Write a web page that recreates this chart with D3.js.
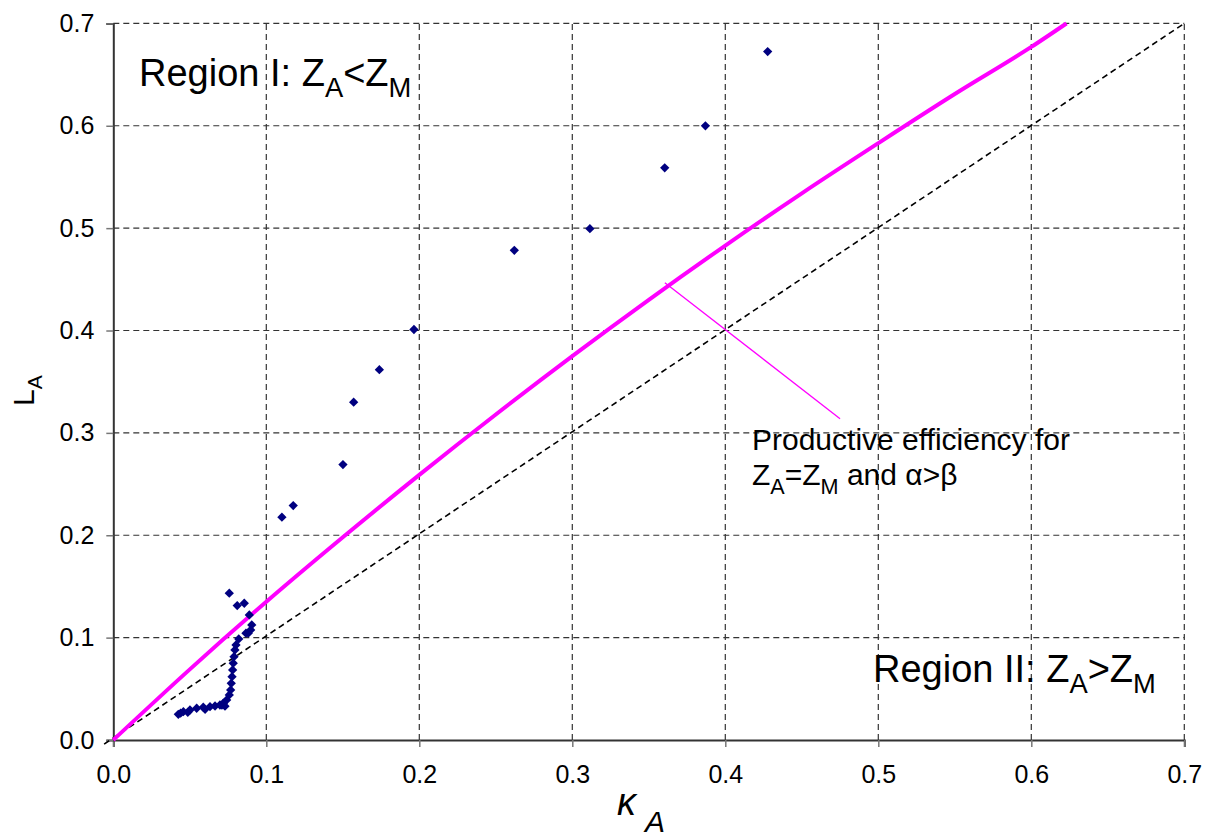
<!DOCTYPE html>
<html>
<head>
<meta charset="utf-8">
<script src="https://cdn.jsdelivr.net/npm/d3@7"></script>
<style>
  body { margin: 0; background: #fff; }
  text { font-family: "Liberation Sans", Arial, sans-serif; fill: #000; }
</style>
</head>
<body>
<div id="chart"></div>
<script>
// chart.js - kappa_A vs L_A scatter with efficiency curve

const width = 1215;
const height = 839;

// tick values
const xTicks = [0, 0.1, 0.2, 0.3, 0.4, 0.5, 0.6, 0.7];
const yTicks = [0, 0.1, 0.2, 0.3, 0.4, 0.5, 0.6, 0.7];

// observed points (kappa_A, L_A)
const obsK = [0.4277, 0.3870, 0.3604, 0.3115, 0.2621, 0.1965, 0.1739, 0.1571, 0.1501, 0.1176,
  0.1102, 0.0758, 0.0810, 0.0856, 0.0889, 0.0905, 0.0898, 0.0882, 0.0867, 0.0820,
  0.0802, 0.0795, 0.0789, 0.0784, 0.0780, 0.0776, 0.0771, 0.0767, 0.0758, 0.0741,
  0.0730, 0.0719, 0.0710, 0.0697, 0.0665, 0.0632, 0.0600, 0.0588, 0.0545, 0.0501,
  0.0487, 0.0458, 0.0440, 0.0425];
const obsL = [0.6725, 0.6000, 0.5589, 0.4995, 0.4783, 0.4010, 0.3617, 0.3300, 0.2690, 0.2290,
  0.2177, 0.1434, 0.1313, 0.1336, 0.1222, 0.1124, 0.1075, 0.1043, 0.1043, 0.0987,
  0.0929, 0.0880, 0.0814, 0.0750, 0.0684, 0.0619, 0.0554, 0.0489, 0.0440, 0.0391,
  0.0330, 0.0359, 0.0340, 0.0342, 0.0332, 0.0326, 0.0300, 0.0320, 0.0310, 0.0293,
  0.0270, 0.0277, 0.0262, 0.0251];

// productive efficiency curve (Z_A = Z_M, alpha > beta)
const effK = [0, 0.05, 0.1, 0.15, 0.2, 0.25, 0.3, 0.35, 0.4, 0.45, 0.5, 0.55, 0.6, 0.623];
const effL = [0, 0.069, 0.135, 0.198, 0.259, 0.318, 0.375, 0.430, 0.483, 0.534, 0.583, 0.631, 0.677, 0.700];

// 45 degree line
const diagK = [-0.006, 0.7];
const diagL = [-0.004, 0.7];

// annotation pointer
const noteK = [0.3605, 0.475];
const noteL = [0.4467, 0.3138];

const margin = { left: 113.3, right: 1184.3, top: 23.4, bottom: 740 };

const svg = d3.select('#chart')
  .append('svg')
  .attr('width', width)
  .attr('height', height);

const x = d3.scaleLinear().domain([0, 0.7]).range([margin.left, margin.right]);
const y = d3.scaleLinear().domain([0, 0.7]).range([margin.bottom, margin.top]);

const fmt = d3.format('.1f');

// gridlines
svg.append('g')
  .selectAll('line')
  .data(xTicks.slice(1))
  .enter().append('line')
  .attr('x1', d => x(d)).attr('x2', d => x(d))
  .attr('y1', y(0)).attr('y2', y(0.7))
  .attr('stroke', '#333')
  .attr('stroke-width', 1.2)
  .attr('stroke-dasharray', '6,4');

svg.append('g')
  .selectAll('line')
  .data(yTicks.slice(1))
  .enter().append('line')
  .attr('x1', x(0)).attr('x2', x(0.7))
  .attr('y1', d => y(d)).attr('y2', d => y(d))
  .attr('stroke', '#333')
  .attr('stroke-width', 1.2)
  .attr('stroke-dasharray', '6,4');

// axes
const xAxis = svg.append('g')
  .attr('transform', `translate(0,${margin.bottom})`)
  .call(d3.axisBottom(x).tickValues(xTicks).tickFormat(fmt).tickSize(7).tickPadding(18));
const yAxis = svg.append('g')
  .attr('transform', `translate(${margin.left},0)`)
  .call(d3.axisLeft(y).tickValues(yTicks).tickFormat(fmt).tickSize(7).tickPadding(12));

[xAxis, yAxis].forEach(a => {
  a.select('.domain').attr('stroke', '#333').attr('stroke-width', 2);
  a.selectAll('.tick line').attr('stroke', '#777').attr('stroke-width', 1.5);
  a.selectAll('.tick text')
    .attr('font-family', '"Liberation Sans", Arial, sans-serif')
    .attr('font-size', 25)
    .attr('fill', '#000');
});

// 45 degree dashed line
const line = d3.line().x(d => x(d[0])).y(d => y(d[1]));
svg.append('path')
  .datum(d3.zip(diagK, diagL))
  .attr('d', line)
  .attr('fill', 'none')
  .attr('stroke', '#000')
  .attr('stroke-width', 1.6)
  .attr('stroke-dasharray', '6,4');

// efficiency curve
svg.append('path')
  .datum(d3.zip(effK, effL))
  .attr('d', d3.line().curve(d3.curveMonotoneX).x(d => x(d[0])).y(d => y(d[1])))
  .attr('fill', 'none')
  .attr('stroke', '#ff00ff')
  .attr('stroke-width', 4);

// annotation pointer
svg.append('path')
  .datum(d3.zip(noteK, noteL))
  .attr('d', line)
  .attr('fill', 'none')
  .attr('stroke', '#ff00ff')
  .attr('stroke-width', 1.3);

// observed points as diamonds
svg.append('g')
  .selectAll('path')
  .data(d3.zip(obsK, obsL))
  .enter().append('path')
  .attr('d', d3.symbol().type(d3.symbolDiamond2).size(55))
  .attr('transform', d => `translate(${x(d[0])},${y(d[1])})`)
  .attr('fill', '#000080');

// labels with subscripts
function subLabel(xp, yp, size, parts) {
  const t = svg.append('text')
    .attr('x', xp).attr('y', yp)
    .attr('font-size', size);
  let shift = 0;
  parts.forEach(p => {
    const sub = p[1];
    const want = sub ? size * 0.3 : 0;
    t.append('tspan')
      .attr('dy', want - shift)
      .attr('font-size', sub ? size * 0.72 : size)
      .text(p[0]);
    shift = want;
  });
  return t;
}

subLabel(139, 86, 38, [['Region I: Z', false], ['A', true], ['<Z', false], ['M', true]]);
subLabel(873, 682, 38, [['Region II: Z', false], ['A', true], ['>Z', false], ['M', true]]);
subLabel(752, 450, 30, [['Productive efficiency for', false]]);
subLabel(752, 485, 30, [['Z', false], ['A', true], ['=Z', false], ['M', true], [' and α>β', false]]);

// axis titles
svg.append('text')
  .attr('x', 617).attr('y', 815)
  .attr('font-size', 38)
  .attr('font-style', 'italic')
  .text('κ')
  .append('tspan')
  .attr('dx', 9).attr('dy', 17)
  .attr('font-size', 30)
  .text('A');

const yl = svg.append('text')
  .attr('transform', 'translate(34,406) rotate(-90)')
  .attr('font-size', 30);
yl.append('tspan').text('L');
yl.append('tspan').attr('dy', 8).attr('font-size', 21).text('A');
</script>
</body>
</html>
